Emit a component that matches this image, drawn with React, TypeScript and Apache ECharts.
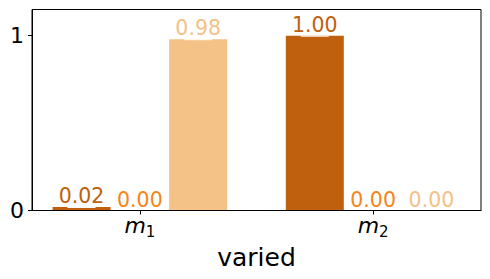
import React, { useEffect, useRef } from "react";
import * as echarts from "echarts";

const categoryBase = ["m", "m"];
const categorySubs = ["1", "2"];
const categoryPositions = [0, 1];
const seriesColors = ["#bf600f", "#f5851a", "#f4c186"];
const seriesDark = [0.02, 1.0];
const seriesMid = [0.0, 0.0];
const seriesLight = [0.98, 0.0];
const barOffsets = [-0.25, 0, 0.25];
const yTicks = [0, 1];
const xLabelName = "varied";

const FONT = "DejaVu Sans";

export default function App() {
  const ref = useRef<HTMLDivElement>(null);
  useEffect(() => {
    if (!ref.current) return;
    const chart = echarts.init(ref.current, null, { renderer: "svg" });
    const allSeries = [seriesDark, seriesMid, seriesLight];
    const series = allSeries.map((vals, si) => ({
      type: "bar",
      barWidth: 58,
      barGap: "-100%",
      itemStyle: { color: seriesColors[si] },
      data: vals.map((v, ci) => [categoryPositions[ci] + barOffsets[si], v]),
      label: {
        show: true,
        position: "top",
        distance: -1,
        formatter: (p: any) => {
          const v = p.value[1] as number;
          return `{v|${v.toFixed(2)}}\n{${v > 0 ? "u" : "z"}|}`;
        },
        rich: {
          v: {
            fontSize: 20.5,
            fontFamily: FONT,
            color: seriesColors[si],
            lineHeight: 20,
            padding: [0, 0, 2, 0],
          },
          u: { width: 28, height: 1, lineHeight: 1, backgroundColor: "#ffffff" },
          z: { width: 28, height: 1, lineHeight: 1 },
        },
      },
    }));
    chart.setOption({
      animation: false,
      grid: {
        left: 32,
        right: 9,
        top: 9.5,
        bottom: 68.5,
        containLabel: false,
        show: true,
        borderColor: "#000",
        borderWidth: 1,
        backgroundColor: "transparent",
      },
      xAxis: {
        type: "value",
        min: -0.4625,
        max: 1.4625,
        z: 5,
        splitLine: { show: false },
        axisLine: { show: true, onZero: false, lineStyle: { color: "#000", width: 1 } },
        axisTick: {
          show: true,
          customValues: categoryPositions,
          length: 4,
          lineStyle: { color: "#000" },
        },
        axisLabel: {
          customValues: categoryPositions,
          margin: 1,
          formatter: (v: number) => {
            const i = categoryPositions.indexOf(Math.round(v));
            return `{m|${categoryBase[i]}}{s|${categorySubs[i]}}`;
          },
          rich: {
            m: {
              fontSize: 22,
              fontStyle: "italic",
              fontFamily: FONT,
              color: "#000",
              lineHeight: 28,
            },
            s: {
              fontSize: 15,
              fontFamily: FONT,
              color: "#000",
              lineHeight: 15,
              verticalAlign: "bottom",
            },
          },
        },
        name: xLabelName,
        nameLocation: "middle",
        nameGap: 34,
        nameTextStyle: { fontSize: 25, fontFamily: FONT, color: "#000" },
      },
      yAxis: {
        type: "value",
        min: 0,
        max: 1.15,
        splitLine: { show: false },
        axisLine: { show: true, onZero: false, lineStyle: { color: "#000", width: 1 } },
        axisTick: {
          show: true,
          customValues: yTicks,
          length: 4,
          lineStyle: { color: "#000" },
        },
        axisLabel: {
          customValues: yTicks,
          margin: 8,
          fontSize: 22,
          fontFamily: FONT,
          color: "#000",
          formatter: (v: number) => String(v),
        },
      },
      series,
    });
    return () => chart.dispose();
  }, []);
  return (
    <div
      ref={ref}
      style={{ position: "fixed", left: 0, top: 0, width: 490, height: 279, background: "#fff" }}
    />
  );
}
